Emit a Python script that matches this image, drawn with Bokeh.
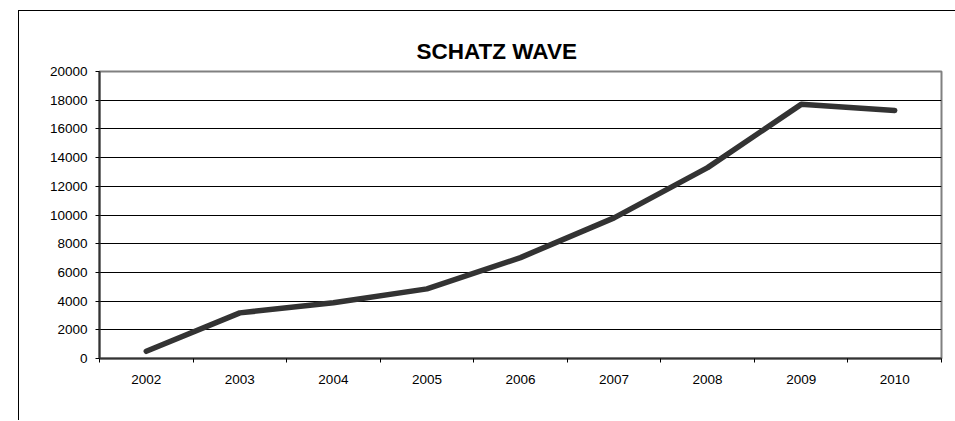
from bokeh.plotting import figure
from bokeh.models import FixedTicker, Title
from bokeh.embed import file_html
from bokeh.resources import INLINE

years = [2002, 2003, 2004, 2005, 2006, 2007, 2008, 2009, 2010]
values = [500, 3180, 3880, 4850, 7030, 9800, 13300, 17710, 17290]
y_ticks = [0, 2000, 4000, 6000, 8000, 10000, 12000, 14000, 16000, 18000, 20000]
title_text = "SCHATZ WAVE"

p = figure(width=937, height=410, output_backend="svg", toolbar_location=None,
           x_range=(2001.5, 2010.5), y_range=(0, 20000),
           min_border_left=80, min_border_right=15, min_border_top=60, min_border_bottom=63)
p.margin = (10, 0, 0, 18)
p.styles = {"border-left": "1.5px solid #000", "border-top": "1.5px solid #000"}

t = Title(text=title_text, align="left", text_font="Liberation Sans",
          text_font_size="22.5px", text_font_style="bold", text_color="#000000",
          offset=317, standoff=16)
p.add_layout(t, "above")

p.line(years, values, line_color="#333333", line_width=5.5,
       line_cap="round", line_join="round")

p.outline_line_color = "#808080"
p.outline_line_width = 2

xt = FixedTicker(ticks=years, minor_ticks=[y - 0.5 for y in years] + [years[-1] + 0.5])
p.xaxis.ticker = xt
p.xaxis.major_tick_out = 0
p.xaxis.major_tick_in = 0
p.xaxis.minor_tick_out = 4
p.xaxis.minor_tick_in = 0
p.xaxis.minor_tick_line_color = "#000000"
p.xaxis.axis_line_color = "#333333"
p.xaxis.axis_line_width = 2
p.xaxis.major_label_standoff = 12

p.yaxis.ticker = FixedTicker(ticks=y_ticks)
p.yaxis.major_tick_out = 4
p.yaxis.major_tick_in = 0
p.yaxis.minor_tick_line_color = None
p.yaxis.major_tick_line_color = "#000000"
p.yaxis.axis_line_color = "#333333"
p.yaxis.axis_line_width = 2
p.yaxis.major_label_standoff = 8

for ax in (p.xaxis, p.yaxis):
    ax.major_label_text_font = "Liberation Sans"
    ax.major_label_text_font_size = "13.5px"
    ax.major_label_text_color = "#000000"

p.xgrid.grid_line_color = None
p.ygrid.grid_line_color = "#000000"
p.ygrid.grid_line_width = 1
p.ygrid.ticker = FixedTicker(ticks=y_ticks)

open("out.html", "w").write(file_html(p, INLINE))
